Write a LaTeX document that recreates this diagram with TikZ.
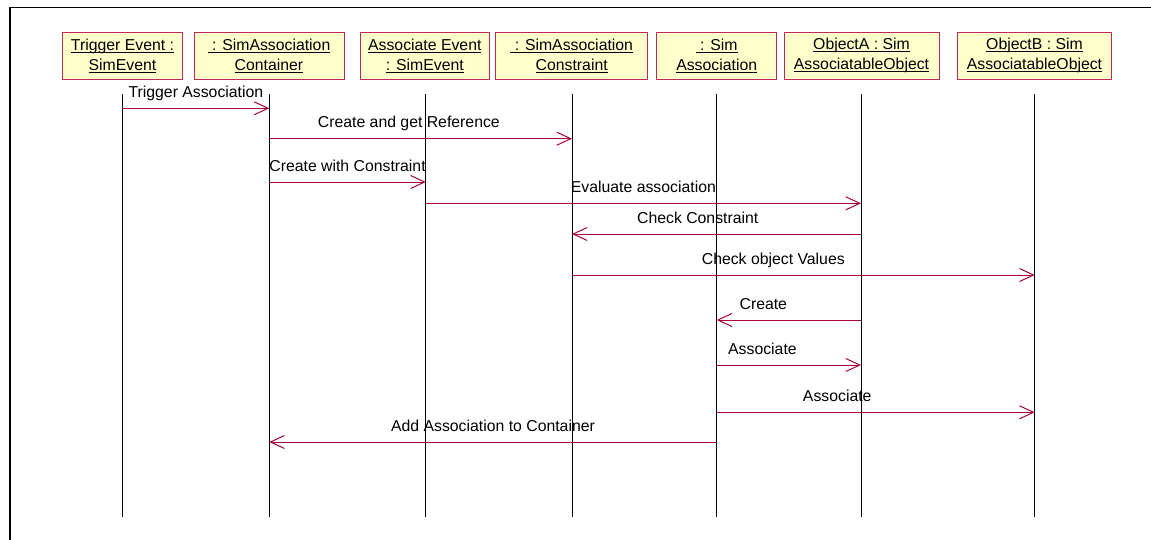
\documentclass[tikz,border=0pt]{standalone}
\usepackage{fontspec}
\setmainfont{Liberation Sans}
\usetikzlibrary{arrows.meta}
\definecolor{objfill}{RGB}{255,255,204}
\definecolor{objedge}{RGB}{190,40,90}
\definecolor{msgcol}{RGB}{170,0,60}
% underline at a fixed depth below the baseline, keeping the text's own size
\newcommand{\ulabel}[1]{\setbox0\hbox{#1}\rlap{\rule[-2.6pt]{\wd0}{0.9pt}}\box0}
\tikzset{
  objbox/.style={draw=objedge, fill=objfill, line width=0.9pt, minimum height=46.7pt,
    align=center, inner sep=0pt, font=\fontsize{15.8}{20}\selectfont},
  lifeline/.style={draw=black, line width=0.9pt},
  msg/.style={draw=msgcol, line width=1pt, -{Straight Barb[length=14pt,width=13pt,line width=1pt]}},
  msglabel/.style={anchor=base, yshift=10.8pt, inner sep=0pt, text=black, font=\fontsize{15.8}{18}\selectfont},
}
\begin{document}
\begin{tikzpicture}[x=1pt,y=-1pt]
\useasboundingbox (0,0) rectangle (1151,539);
% outer frame, running off the right and bottom edges
\begin{scope}
  \clip (0,0) rectangle (1151,539);
  \draw[line width=1.8pt] (10,7.5) rectangle (1200,600);
\end{scope}

% objects
\node[objbox, minimum width=119.6pt] (o1) at (122.5,55.7) {\ulabel{Trigger Event :}\\\ulabel{SimEvent}};
\node[objbox, minimum width=150pt]   (o2) at (269,55.7)   {\ulabel{\ : SimAssociation}\\\ulabel{Container}};
\node[objbox, minimum width=128.3pt] (o3) at (424.8,55.7) {\ulabel{Associate Event}\\\ulabel{: SimEvent}};
\node[objbox, minimum width=152pt]   (o4) at (571.7,55.7) {\ulabel{\ : SimAssociation}\\\ulabel{Constraint}};
\node[objbox, minimum width=120pt]   (o5) at (716.7,55.7) {\ulabel{\ : Sim}\\\ulabel{Association}};
\node[objbox, minimum width=155pt]   (o6) at (861.5,55.7) {\ulabel{ObjectA : Sim}\\\ulabel{AssociatableObject}};
\node[objbox, minimum width=154.4pt] (o7) at (1034.5,55.7) {\ulabel{ObjectB : Sim}\\\ulabel{AssociatableObject}};

% lifelines
\foreach \i/\x in {1/122.5,2/269.3,3/425.8,4/572,5/716.7,6/861,7/1034.7}{
  \coordinate (l\i) at (\x,94.3);
  \coordinate (e\i) at (\x,516.7);
  \draw[lifeline] (l\i) -- (e\i);
}

% messages
\draw[msg] (l1 |- 0,108.3) -- node[msglabel, pos=0.5]   {Trigger Association} (l2 |- 0,108.3);
\draw[msg] (l2 |- 0,138.7) -- node[msglabel, pos=0.461] {Create and get Reference} (l4 |- 0,138.7);
\draw[msg] (l2 |- 0,182)   -- node[msglabel, pos=0.5]   {Create with Constraint} (l3 |- 0,182);
\draw[msg] (l3 |- 0,203.3) -- node[msglabel, pos=0.5]   {Evaluate association} (l6 |- 0,203.3);
\draw[msg] (l6 |- 0,234)   -- node[msglabel, pos=0.565] {Check Constraint} (l4 |- 0,234);
\draw[msg] (l4 |- 0,275)   -- node[msglabel, pos=0.435] {Check object Values} (l7 |- 0,275);
\draw[msg] (l6 |- 0,320)   -- node[msglabel, pos=0.677] {Create} (l5 |- 0,320);
\draw[msg] (l5 |- 0,365)   -- node[msglabel, pos=0.317] {Associate} (l6 |- 0,365);
\draw[msg] (l5 |- 0,412.3) -- node[msglabel, pos=0.379] {Associate} (l7 |- 0,412.3);
\draw[msg] (l5 |- 0,442)   -- node[msglabel, pos=0.5]   {Add Association to Container} (l2 |- 0,442);
\end{tikzpicture}
\end{document}
